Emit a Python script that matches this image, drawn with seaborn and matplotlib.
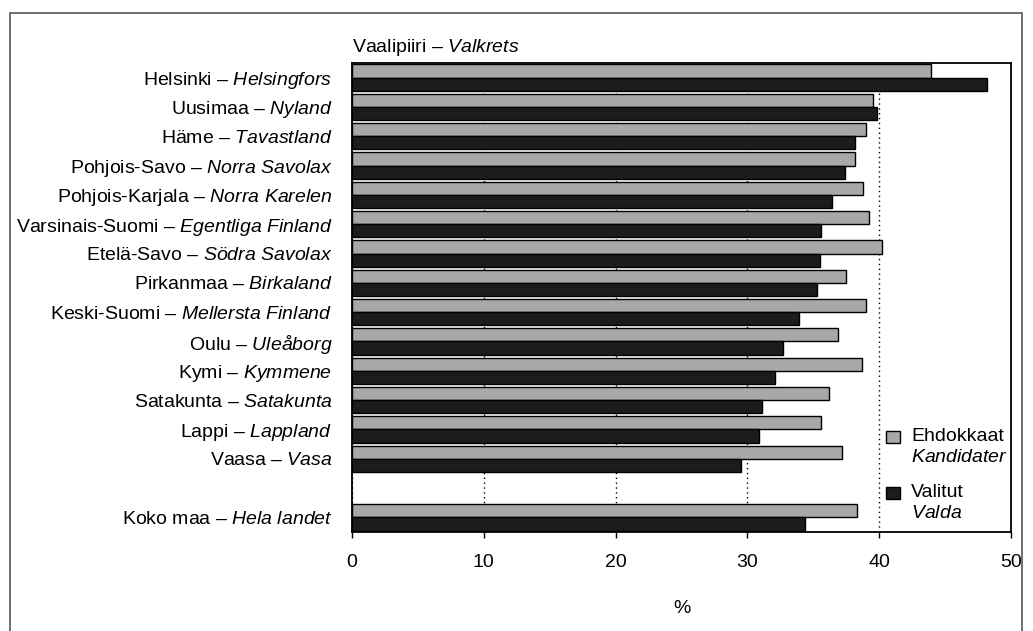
import pandas as pd
import matplotlib
matplotlib.use('Agg')
import matplotlib.pyplot as plt
import seaborn as sns

# Vaalipiirit / valkretsar (Finnish part, Swedish part)
regions_fi = ['Helsinki', 'Uusimaa', 'Häme', 'Pohjois-Savo', 'Pohjois-Karjala',
              'Varsinais-Suomi', 'Etelä-Savo', 'Pirkanmaa', 'Keski-Suomi', 'Oulu',
              'Kymi', 'Satakunta', 'Lappi', 'Vaasa', 'Koko maa']
regions_sv = ['Helsingfors', 'Nyland', 'Tavastland', 'Norra Savolax', 'Norra Karelen',
              'Egentliga Finland', 'Södra Savolax', 'Birkaland', 'Mellersta Finland', 'Uleåborg',
              'Kymmene', 'Satakunta', 'Lappland', 'Vasa', 'Hela landet']
ehdokkaat = [43.9, 39.5, 39.0, 38.2, 38.8, 39.2, 40.2, 37.5, 39.0, 36.9,
             38.7, 36.2, 35.6, 37.2, 38.3]
valitut = [48.2, 39.8, 38.2, 37.4, 36.4, 35.6, 35.5, 35.3, 33.9, 32.7,
           32.1, 31.1, 30.9, 29.5, 34.4]
series = ['Ehdokkaat', 'Valitut']
series_sv = ['Kandidater', 'Valda']

df = pd.DataFrame({'region': regions_fi * 2,
                   'val': ehdokkaat + valitut,
                   'series': [series[0]] * len(regions_fi) + [series[1]] * len(regions_fi)})

# blank slot before the national total
order = regions_fi[:-1] + ['_gap'] + regions_fi[-1:]

sns.set_style('white')
plt.rcParams['font.family'] = ['Liberation Sans', 'DejaVu Sans']
plt.rcParams['mathtext.fontset'] = 'custom'
plt.rcParams['mathtext.rm'] = 'Liberation Sans'
plt.rcParams['mathtext.it'] = 'Liberation Sans:italic'
plt.rcParams['text.color'] = 'black'
plt.rcParams['xtick.color'] = 'black'
plt.rcParams['ytick.color'] = 'black'
plt.rcParams['axes.labelcolor'] = 'black'
fs = 14

fig = plt.figure(figsize=(10.33, 6.31), dpi=100)
ax = fig.add_axes([352 / 1033, 1 - 532 / 631, 659 / 1033, 469 / 631])

sns.barplot(data=df, y='region', x='val', hue='series', order=order, hue_order=series,
            palette={'Ehdokkaat': '#a8a8a8', 'Valitut': '#1c1c1c'},
            width=0.9, edgecolor='black', linewidth=1.0, ax=ax, zorder=3)

def it(s):
    return '$\\it{' + s.replace(' ', '\\ ') + '}$'

labels = []
for r in order:
    if r == '_gap':
        labels.append('')
    else:
        i = regions_fi.index(r)
        labels.append(r + ' – ' + it(regions_sv[i]))
ax.set_yticks(range(len(order)))
ax.set_yticklabels(labels, fontsize=fs)
ax.set_ylabel('')
ax.set_ylim(len(order) - 0.5, -0.5)

ax.set_xlim(0, 50)
ax.set_xticks([0, 10, 20, 30, 40, 50])
ax.set_xticklabels(['0', '10', '20', '30', '40', '50'], fontsize=fs)
ax.set_xlabel('%', fontsize=fs, labelpad=21)
ax.tick_params(axis='x', length=4, width=1, pad=12, direction='out', bottom=True)
ax.tick_params(axis='y', length=0, pad=14)
ax.grid(axis='x', linestyle=(0, (1, 2.5)), color='black', linewidth=1.0, zorder=0)
ax.set_axisbelow(True)
for s in ax.spines.values():
    s.set_visible(True)
    s.set_color('black')
    s.set_linewidth(1.3)

ax.text(0, 1.032, 'Vaalipiiri – ' + it('Valkrets'), transform=ax.transAxes,
        fontsize=fs, ha='left', va='center')

handles, _ = ax.get_legend_handles_labels()
leg_labels = [series[k] + '\n' + it(series_sv[k]) for k in range(2)]
leg = ax.legend(handles, leg_labels, loc='upper left', bbox_to_anchor=(0.81, 0.222),
                frameon=False, fontsize=fs, handlelength=0.75, handleheight=0.55,
                handletextpad=0.55, labelspacing=0.95, borderpad=0, borderaxespad=0)
for t in leg.get_texts():
    t.set_linespacing(1.3)
# put the swatch next to the first line of each label
for h in leg.legend_handles:
    h.set_y(h.get_y() + 7)

fig.add_artist(plt.Rectangle((10 / 1033, -0.01), 1012 / 1033, 1 - 13 / 631 + 0.01,
                             transform=fig.transFigure, fill=False,
                             edgecolor='#555555', linewidth=1.2))

fig.savefig('out.png', dpi=100)
